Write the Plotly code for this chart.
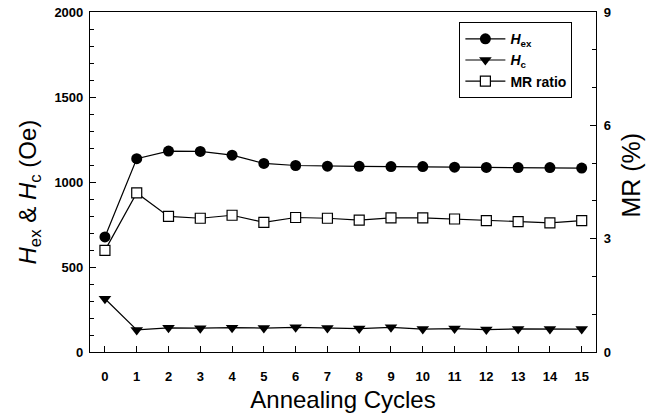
import plotly.graph_objects as go

cycles = list(range(16))
hex_vals = [677, 1137, 1182, 1180, 1158, 1109, 1097, 1093, 1092, 1091, 1091, 1087, 1086, 1085, 1085, 1082]
hc_vals = [313, 130, 142, 140, 143, 141, 145, 141, 138, 145, 135, 138, 132, 136, 135, 135]
mr_vals = [2.69, 4.21, 3.59, 3.54, 3.62, 3.43, 3.56, 3.54, 3.49, 3.55, 3.55, 3.52, 3.48, 3.45, 3.42, 3.48]

fig = go.Figure()
line = dict(color="black", width=1.2)
fig.add_trace(go.Scatter(x=cycles, y=hex_vals, mode="lines+markers", name="<i>H</i><sub>ex</sub>",
                         line=line, marker=dict(symbol="circle", size=11, color="black")))
fig.add_trace(go.Scatter(x=cycles, y=hc_vals, mode="lines+markers", name="<i>H</i><sub>c</sub>",
                         line=line, marker=dict(symbol="triangle-down", size=11, color="black")))
fig.add_trace(go.Scatter(x=cycles, y=mr_vals, mode="lines+markers", name="MR ratio", yaxis="y2",
                         line=line, marker=dict(symbol="square", size=10, color="white",
                                                line=dict(color="black", width=1.2))))

font = "Liberation Sans, Arial, sans-serif"
tickf = dict(size=13, family=font, weight="bold")
fig.update_layout(
    width=662, height=418,
    margin=dict(l=90, r=66, t=12, b=66),
    plot_bgcolor="white", paper_bgcolor="white",
    font=dict(family=font, color="black"),
    xaxis=dict(range=[-0.47, 15.45], tickmode="array", tickvals=cycles, automargin=False,
               ticks="inside", ticklen=6, tickcolor="black", showline=True, linecolor="black",
               linewidth=1.2, mirror=True, showgrid=False, zeroline=False,
               tickfont=tickf, ticklabelstandoff=12,
               title=dict(text="Annealing Cycles", font=dict(size=24), standoff=8)),
    yaxis=dict(range=[0, 2000], tickvals=[0, 500, 1000, 1500, 2000], ticks="inside", ticklen=6,
               tickcolor="black", showline=True, linecolor="black", linewidth=1.2, automargin=False,
               showgrid=False, zeroline=False, tickfont=tickf, ticklabelstandoff=3,
               minor=dict(dtick=100, ticks="inside", ticklen=4, tickcolor="black", showgrid=False)),
    yaxis2=dict(range=[0, 9], overlaying="y", side="right", tickvals=[0, 3, 6, 9], automargin=False,
                ticks="inside", ticklen=6, tickcolor="black", showline=True, linecolor="black",
                linewidth=1.2, showgrid=False, zeroline=False, tickfont=tickf, ticklabelstandoff=4,
                minor=dict(dtick=1, ticks="inside", ticklen=4, tickcolor="black", showgrid=False)),
    legend=dict(x=0.73, y=0.97, xanchor="left", yanchor="top", bordercolor="black", borderwidth=1,
                bgcolor="white", font=dict(size=14, weight="bold"), tracegroupgap=0, itemwidth=40),
    showlegend=True,
    annotations=[
        dict(text="<i>H</i><sub>ex</sub> & <i>H</i><sub>c</sub> (Oe)", textangle=-90,
             xref="paper", yref="paper", x=-0.12, y=0.47, xanchor="center", yanchor="middle",
             showarrow=False, font=dict(size=24)),
        dict(text="MR (%)", textangle=-90,
             xref="paper", yref="paper", x=1.07, y=0.52, xanchor="center", yanchor="middle",
             showarrow=False, font=dict(size=25)),
    ],
)

fig.write_html("out.html")
